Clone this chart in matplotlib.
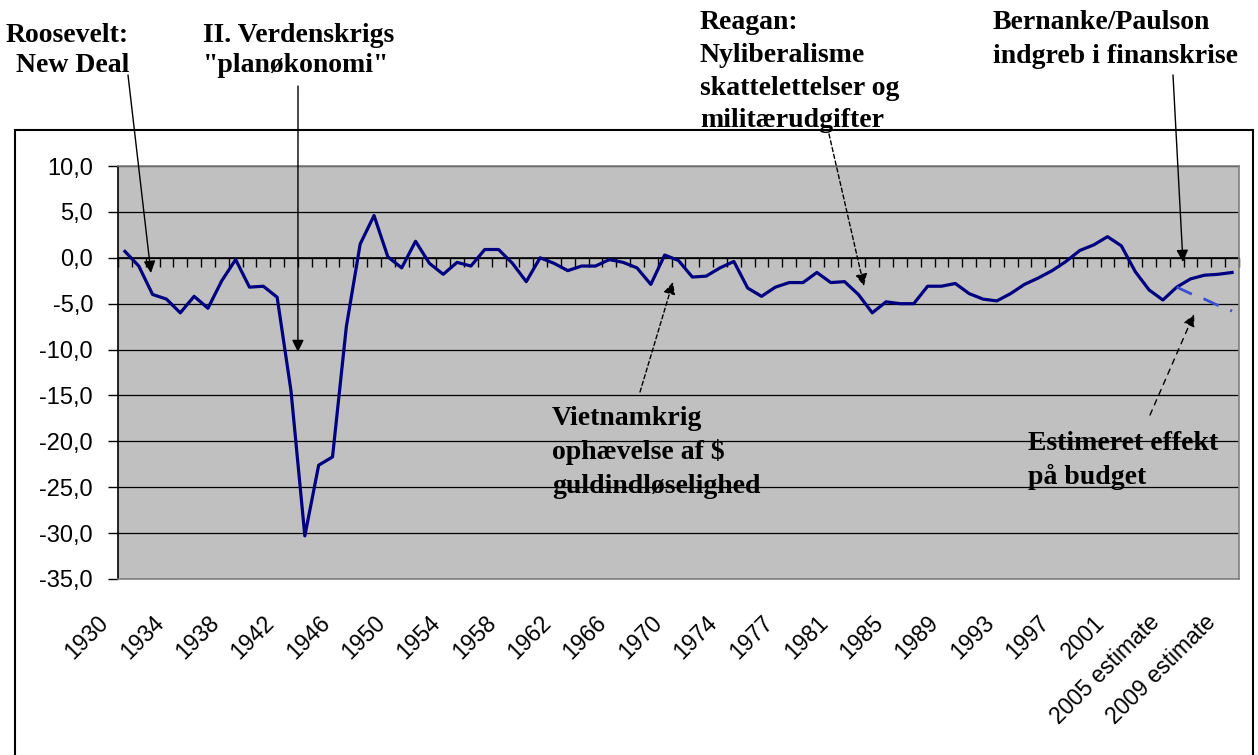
import numpy as np
import matplotlib
matplotlib.use("Agg")
import matplotlib.pyplot as plt
import matplotlib.transforms as mtransforms
from matplotlib.patches import Rectangle

# -----------------------------
# Data (budget balance, % of GDP)
# -----------------------------
years = ([str(y) for y in range(1930, 1977)] + ["TQ"]
         + [str(y) for y in range(1977, 2004)]
         + [f"{y} estimate" for y in range(2004, 2010)])

balance = [
    0.7, -0.9, -4.0, -4.5, -6.0, -4.2, -5.5, -2.5, -0.2, -3.2,      # 1930-39
    -3.1, -4.3, -14.5, -30.3, -22.6, -21.7, -7.5, 1.5, 4.6, 0.1,    # 1940-49
    -1.1, 1.8, -0.6, -1.8, -0.5, -0.9, 0.9, 0.9, -0.6, -2.6,        # 1950-59
    0.0, -0.6, -1.4, -0.9, -0.9, -0.2, -0.5, -1.1, -2.9, 0.3,       # 1960-69
    -0.3, -2.1, -2.0, -1.1, -0.4, -3.3, -4.2, -3.2,                 # 1970-76, TQ
    -2.7, -2.7, -1.6, -2.7, -2.6, -4.0, -6.0, -4.8, -5.0, -5.0,     # 1977-86
    -3.1, -3.1, -2.8, -3.9, -4.5, -4.7, -3.9, -2.9, -2.2, -1.4,     # 1987-96
    -0.4, 0.8, 1.4, 2.3, 1.3, -1.5, -3.5,                           # 1997-2003
    -4.6, -3.2, -2.3, -1.9, -1.8, -1.6,                             # 2004-09 est.
]

# estimated effect of the crisis package, 2005-2009 estimates
effect = [-3.2, -3.9, -4.5, -5.2, -5.8]

y_ticks = [10, 5, 0, -5, -10, -15, -20, -25, -30, -35]

W, H = 1258, 755


def fp(x, y):
    """pixel position in the picture -> figure fraction"""
    return (x / W, 1 - y / H)


fig = plt.figure(figsize=(W / 100, H / 100), dpi=100)
fig.patch.set_facecolor("white")

ax = fig.add_axes([118 / W, 1 - 579 / H, (1239 - 118) / W, (579 - 166) / H])
ax.set_facecolor("#c0c0c0")

x = np.arange(len(years))
ax.plot(x, balance, color="#000080", lw=2.3, zorder=3)
ax.plot(x[-len(effect):], effect, color="#3a4fd0", lw=2.0,
        linestyle=(0, (6, 4.5)), zorder=3)

ax.set_xlim(-0.5, len(years) - 0.5)
ax.set_ylim(-35, 10)

# y axis
ax.set_yticks(y_ticks)
ax.yaxis.set_major_formatter(lambda v, p: f"{v:.1f}".replace(".", ","))
ax.tick_params(axis="y", length=7.2, width=1, color="black", pad=10.8,
               labelsize=17)
for lab in ax.get_yticklabels():
    lab.set_family("Liberation Sans")
ax.grid(axis="y", color="black", lw=0.9)
ax.set_axisbelow(True)

for side in ["top", "right", "bottom"]:
    ax.spines[side].set_color("#808080")
    ax.spines[side].set_linewidth(1.2)
ax.spines["left"].set_color("black")
ax.spines["left"].set_linewidth(1.2)

# x axis labels (every 4th category)
ax.set_xticks(x[::4], years[::4], rotation=45, ha="right", fontsize=16.5,
              family="Liberation Sans")
ax.tick_params(axis="x", length=0, pad=23)
shift = mtransforms.ScaledTranslation(-12 / 100, 0, fig.dpi_scale_trans)
for lab in ax.get_xticklabels():
    lab.set_transform(lab.get_transform() + shift)

# category axis crossing at zero with tick marks
sec = ax.secondary_xaxis(35 / 45)
sec.set_alignment("bottom")
sec.set_ticks(np.arange(-0.5, len(years), 1.0))
sec.tick_params(direction="out", length=6.5, width=1, color="black",
                labelbottom=False, labeltop=False)
for s in sec.spines.values():
    s.set_color("black")
    s.set_linewidth(1.2)

# outer chart border
fig.add_artist(Rectangle((15 / W, -0.02), (1253 - 15) / W, 1 - 130 / H + 0.02,
                         transform=fig.transFigure, fill=False,
                         edgecolor="black", lw=1.5, clip_on=False))

# -----------------------------
# Annotations
# -----------------------------
font = dict(family="Liberation Serif", weight="bold", fontsize=20,
            va="baseline")

fig.text(*fp(129, 42), "Roosevelt:", ha="right", **font)
fig.text(*fp(129, 72), "New Deal", ha="right", **font)

fig.text(*fp(203, 42), "II. Verdenskrigs", **font)
fig.text(*fp(203, 72), "\"planøkonomi\"", **font)

for i, line in enumerate(["Reagan:", "Nyliberalisme",
                          "skattelettelser og", "militærudgifter"]):
    fig.text(*fp(700, [29, 62, 95, 127][i]), line, **font)

fig.text(*fp(993, 29), "Bernanke/Paulson", **font)
fig.text(*fp(993, 63), "indgreb i finanskrise", **font)

for i, line in enumerate(["Vietnamkrig", "ophævelse af $",
                          "guldindløselighed"]):
    fig.text(*fp(552, [425, 459, 493][i]), line, zorder=4, **font)

fig.text(*fp(1028, 450), "Estimeret effekt", zorder=4, **font)
fig.text(*fp(1028, 484), "på budget", zorder=4, **font)

arrows = [
    # tip (data), tail (pixels), linestyle
    ((1.88, -1.66), (128, 75), "-"),
    ((12.5, -10.27), (298, 86), "-"),
    ((53.4, -3.08), (829, 134), (0, (3, 2))),
    ((39.6, -2.64), (640, 392), (0, (3, 2))),
    ((76.45, -0.46), (1173, 75), "-"),
    ((77.25, -6.13), (1150, 415), (0, (4, 4))),
]
for tip, tail, ls in arrows:
    ax.annotate("", xy=tip, xycoords="data",
                xytext=fp(*tail), textcoords="figure fraction",
                arrowprops=dict(arrowstyle="-|>,head_length=0.45,head_width=0.22",
                                color="black", lw=1.0, linestyle=ls,
                                shrinkA=0, shrinkB=0, mutation_scale=16),
                annotation_clip=False, zorder=5)

fig.savefig("out.png", dpi=100)
